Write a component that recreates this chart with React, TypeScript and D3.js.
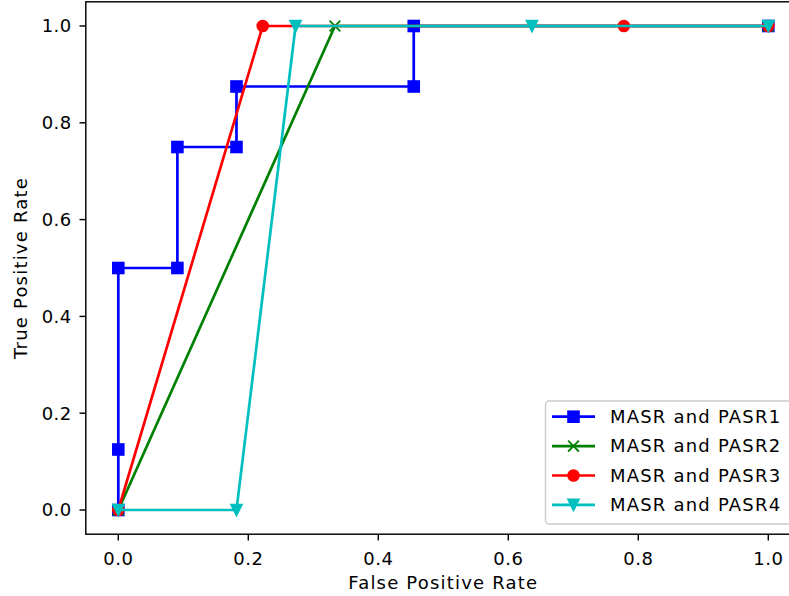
import {useEffect, useRef} from "react";
import * as d3 from "d3";

const seriesNames = ["MASR and PASR1", "MASR and PASR2", "MASR and PASR3", "MASR and PASR4"];
const seriesColors = ["#0000ff", "#008000", "#ff0000", "#00bfbf"];
const seriesMarkers = ["square", "x", "circle", "triangleDown"];

const fpr1 = [0, 0, 0, 1 / 11, 1 / 11, 2 / 11, 2 / 11, 5 / 11, 5 / 11, 1];
const tpr1 = [0, 0.125, 0.5, 0.5, 0.75, 0.75, 0.875, 0.875, 1, 1];
const fpr2 = [0, 1 / 3, 1];
const tpr2 = [0, 1, 1];
const fpr3 = [0, 2 / 9, 7 / 9, 1];
const tpr3 = [0, 1, 1, 1];
const fpr4 = [0, 2 / 11, 3 / 11, 7 / 11, 1];
const tpr4 = [0, 0, 1, 1, 1];

const xTicks = [0, 0.2, 0.4, 0.6, 0.8, 1.0];
const yTicks = [0, 0.2, 0.4, 0.6, 0.8, 1.0];

const W = 789;
const H = 596;

const App = () => {
	const svgRef = useRef(null);

	useEffect(() => {
		document.body.style.margin = "0";
		const svg = d3.select(svgRef.current);
		svg.selectAll("*").remove();

		const left = 85.8, right = 800.8, top = 1.8, bottom = 534.2;
		const x = d3.scaleLinear().domain([-0.05, 1.05]).range([left, right]);
		const y = d3.scaleLinear().domain([-0.05, 1.05]).range([bottom, top]);

		const font = "DejaVu Sans, sans-serif";
		const fs = 18;

		svg.append("rect").attr("width", W).attr("height", H).attr("fill", "#fff");

		const series = [
			d3.zip(fpr1, tpr1),
			d3.zip(fpr2, tpr2),
			d3.zip(fpr3, tpr3),
			d3.zip(fpr4, tpr4),
		];

		const drawMarker = (g, kind, color, cx, cy) => {
			const s = 10.8;
			const sw = 1.8;
			if (kind === "square") {
				g.append("rect").attr("x", cx - s / 2).attr("y", cy - s / 2)
					.attr("width", s).attr("height", s)
					.attr("fill", color).attr("stroke", color).attr("stroke-width", sw);
			} else if (kind === "circle") {
				g.append("circle").attr("cx", cx).attr("cy", cy).attr("r", s / 2)
					.attr("fill", color).attr("stroke", color).attr("stroke-width", sw);
			} else if (kind === "triangleDown") {
				const h = s / 2;
				g.append("path")
					.attr("d", `M${cx},${cy + h}L${cx - h},${cy - h}L${cx + h},${cy - h}Z`)
					.attr("fill", color).attr("stroke", color).attr("stroke-width", sw)
					.attr("stroke-linejoin", "miter");
			} else if (kind === "x") {
				const h = s / 2;
				g.append("path")
					.attr("d", `M${cx - h},${cy - h}L${cx + h},${cy + h}M${cx - h},${cy + h}L${cx + h},${cy - h}`)
					.attr("fill", "none").attr("stroke", color).attr("stroke-width", sw);
			}
		};

		const plot = svg.append("g");
		const line = d3.line().x((d) => x(d[0])).y((d) => y(d[1]));

		series.forEach((data, i) => {
			const g = plot.append("g");
			g.append("path")
				.attr("d", line(data))
				.attr("fill", "none")
				.attr("stroke", seriesColors[i])
				.attr("stroke-width", 2.7)
				.attr("stroke-linejoin", "round")
				.attr("stroke-linecap", "square");
			data.forEach((d) => drawMarker(g, seriesMarkers[i], seriesColors[i], x(d[0]), y(d[1])));
		});

		// Spines
		svg.append("rect")
			.attr("x", left).attr("y", top)
			.attr("width", right - left).attr("height", bottom - top)
			.attr("fill", "none").attr("stroke", "#000").attr("stroke-width", 1.44);

		// X axis
		const xAxis = svg.append("g");
		xTicks.forEach((t) => {
			xAxis.append("line").attr("x1", x(t)).attr("x2", x(t))
				.attr("y1", bottom).attr("y2", bottom + 6.3)
				.attr("stroke", "#000").attr("stroke-width", 1.44);
			xAxis.append("text").attr("x", x(t)).attr("y", bottom + 31)
				.attr("text-anchor", "middle").attr("font-family", font).attr("font-size", fs)
				.attr("letter-spacing", 0.5)
				.text(t.toFixed(1));
		});

		// Y axis
		const yAxis = svg.append("g");
		yTicks.forEach((t) => {
			yAxis.append("line").attr("x1", left - 6.3).attr("x2", left)
				.attr("y1", y(t)).attr("y2", y(t))
				.attr("stroke", "#000").attr("stroke-width", 1.44);
			yAxis.append("text").attr("x", left - 14).attr("y", y(t)).attr("dy", "0.35em")
				.attr("text-anchor", "end").attr("font-family", font).attr("font-size", fs)
				.attr("letter-spacing", 0.5)
				.text(t.toFixed(1));
		});

		svg.append("text")
			.attr("x", (left + right) / 2).attr("y", 589)
			.attr("text-anchor", "middle").attr("font-family", font).attr("font-size", fs)
			.attr("letter-spacing", 1.2)
			.text("False Positive Rate");

		svg.append("text")
			.attr("transform", `translate(27,${(top + bottom) / 2}) rotate(-90)`)
			.attr("text-anchor", "middle").attr("font-family", font).attr("font-size", fs)
			.attr("letter-spacing", 1.2)
			.text("True Positive Rate");

		// Legend
		const lg = svg.append("g");
		lg.append("rect")
			.attr("x", 545.5).attr("y", 401).attr("width", 248).attr("height", 123)
			.attr("rx", 3.6)
			.attr("fill", "#fff").attr("fill-opacity", 0.8)
			.attr("stroke", "#cccccc").attr("stroke-width", 1.44);
		seriesNames.forEach((name, i) => {
			const ly = 416.7 + i * 29.4;
			lg.append("line").attr("x1", 552).attr("x2", 595).attr("y1", ly).attr("y2", ly)
				.attr("stroke", seriesColors[i]).attr("stroke-width", 2.7);
			drawMarker(lg, seriesMarkers[i], seriesColors[i], 573.5, ly);
			lg.append("text").attr("x", 610).attr("y", ly).attr("dy", "0.35em")
				.attr("font-family", font).attr("font-size", fs)
				.attr("letter-spacing", 1.2)
				.text(name);
		});
	}, []);

	return <svg ref={svgRef} width={W} height={H} style={{display: "block"}}></svg>;
};

export default App;
